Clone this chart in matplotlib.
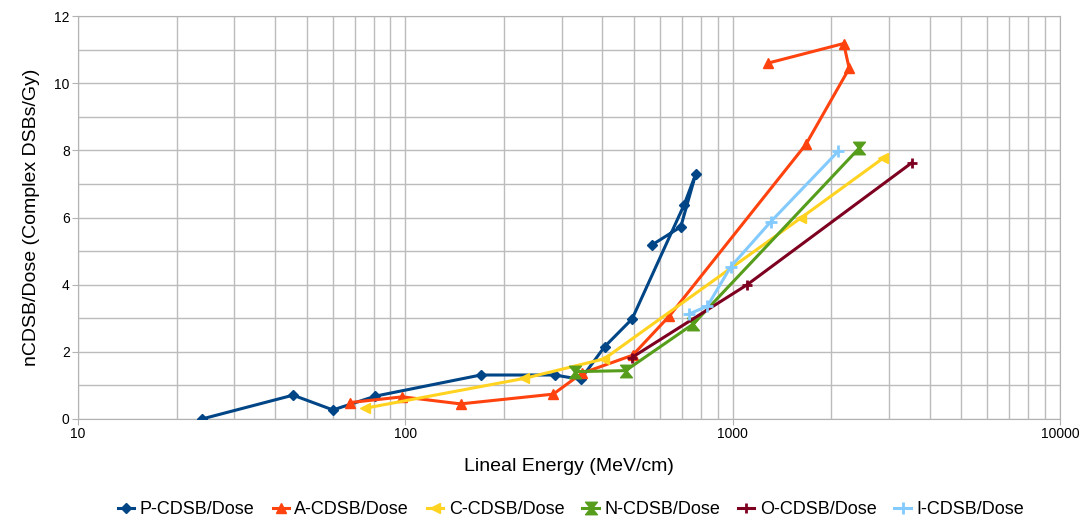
import matplotlib
matplotlib.use("Agg")
import matplotlib.pyplot as plt
from matplotlib.ticker import LogLocator, FixedLocator, NullFormatter

plt.rcParams['font.family'] = ['Liberation Sans', 'DejaVu Sans']

# ----- DATA -----
p_x = [23.9, 45.4, 60.1, 80.9, 170, 286, 343, 406, 493, 710, 771, 694, 566]
p_y = [0.0, 0.71, 0.27, 0.68, 1.31, 1.31, 1.18, 2.15, 2.98, 6.37, 7.29, 5.72, 5.18]

a_x = [67.8, 97.9, 147.5, 283, 346, 495, 641, 1675, 2270, 2183, 1285]
a_y = [0.49, 0.66, 0.45, 0.74, 1.36, 1.90, 3.07, 8.18, 10.44, 11.18, 10.60]

c_x = [75.3, 231, 405, 1618, 2875]
c_y = [0.32, 1.21, 1.79, 5.99, 7.76]

n_x = [330, 471, 758, 2437]
n_y = [1.41, 1.44, 2.83, 8.07]

o_x = [492, 1104, 3526]
o_y = [1.83, 3.99, 7.63]

i_x = [733, 837, 986, 1306, 2105]
i_y = [3.12, 3.36, 4.53, 5.87, 7.98]

series = [
    ("P-CDSB/Dose", p_x, p_y, "#004586", "D", 5),
    ("A-CDSB/Dose", a_x, a_y, "#ff420e", "^", 7),
    ("C-CDSB/Dose", c_x, c_y, "#ffd320", "<", 7),
    ("N-CDSB/Dose", n_x, n_y, "#579d1c", "$\u29d7$", 9),
    ("O-CDSB/Dose", o_x, o_y, "#7e0021", "+", 7),
    ("I-CDSB/Dose", i_x, i_y, "#83caff", "+", 8),
]

fig = plt.figure(figsize=(10.82, 5.2), dpi=100)
ax = fig.add_axes([78 / 1082, 1 - 419 / 520, (1060 - 78) / 1082, (419 - 16) / 520])

for name, xs, ys, col, mk, ms in series:
    mew = 2 if mk == "+" else 1
    ax.plot(xs, ys, color=col, lw=2.2, marker=mk, markersize=ms,
            markeredgewidth=mew, label=name, zorder=3)

ax.set_xscale("log")
ax.set_xlim(10, 10000)
ax.set_ylim(0, 12)
ax.set_yticks(range(0, 13, 2))
ax.yaxis.set_minor_locator(FixedLocator(range(1, 12, 2)))
ax.xaxis.set_major_locator(FixedLocator([10, 100, 1000, 10000]))
ax.set_xticklabels(["10", "100", "1000", "10000"])
ax.xaxis.set_minor_locator(LogLocator(base=10, subs=range(2, 10)))
ax.xaxis.set_minor_formatter(NullFormatter())

ax.grid(True, which="both", color="#bcbcbc", lw=1)
ax.set_axisbelow(True)
for s in ax.spines.values():
    s.set_color("#b3b3b3")
ax.tick_params(which="major", length=4, color="#b3b3b3", labelsize=10, pad=2)
ax.tick_params(which="minor", length=0)

ax.set_xlabel("Lineal Energy (MeV/cm)", fontsize=14, labelpad=12)
ax.set_ylabel("nCDSB/Dose (Complex DSBs/Gy)", fontsize=14, labelpad=10)

fig.legend(loc="center", bbox_to_anchor=(571 / 1082, 1 - 510 / 520), ncol=6, frameon=False,
           fontsize=13, handlelength=0.9, handletextpad=0.3, columnspacing=1.0,
           borderaxespad=0, borderpad=0)

fig.savefig("out.png", dpi=100)
